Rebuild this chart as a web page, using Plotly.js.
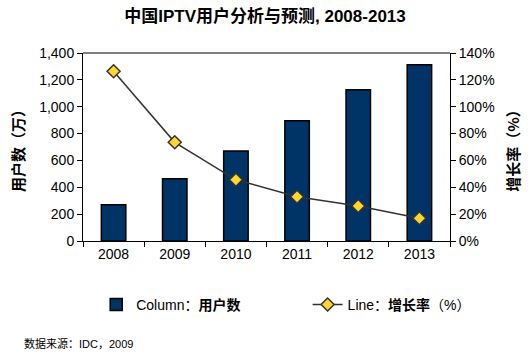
<!DOCTYPE html>
<html>
<head>
<meta charset="utf-8">
<script src="https://cdn.plot.ly/plotly-3.0.1.min.js"></script>
<style>html,body{margin:0;padding:0;background:#fff;}#chart{width:530px;height:358px;}</style>
</head>
<body>
<div id="chart"></div>
<script>
var years = ['2008', '2009', '2010', '2011', '2012', '2013'];
var users = [270, 464, 670, 896, 1127, 1313];
var growth = [126.4, 73.5, 45.6, 33.0, 26.0, 16.9];
var leftTicks = [0, 200, 400, 600, 800, 1000, 1200, 1400];
var rightTicks = [0, 20, 40, 60, 80, 100, 120, 140];
var rightTickText = ['0%', '20%', '40%', '60%', '80%', '100%', '120%', '140%'];

var FONT = 'Liberation Sans, Arial, sans-serif';
var MIX = 'Liberation Sans, Noto Sans CJK SC, sans-serif';
var CJK = 'Noto Sans CJK SC, sans-serif';

var traces = [
  {
    type: 'bar', x: years, y: users, name: 'Column：<b>用户数</b>',
    marker: {color: '#003366', line: {color: '#000000', width: 1.5}},
    width: 0.4, yaxis: 'y', hoverinfo: 'skip', legend: 'legend'
  },
  {
    type: 'scatter', mode: 'lines+markers', x: years, y: growth, name: 'Line：<b>增长率</b>（%）',
    yaxis: 'y2',
    line: {color: '#333333', width: 1.5},
    marker: {symbol: 'diamond', size: 10, color: '#FFD530', line: {color: '#333333', width: 1.5}},
    hoverinfo: 'skip', legend: 'legend2'
  }
];

var legendCommon = {
  orientation: 'h', xanchor: 'left', y: -0.34, yanchor: 'middle',
  font: {family: MIX, size: 14, color: '#000'}, bgcolor: 'rgba(0,0,0,0)'
};

var layout = {
  width: 530, height: 358,
  margin: {l: 83, r: 80, t: 53, b: 117},
  paper_bgcolor: '#ffffff', plot_bgcolor: '#ffffff',
  font: {family: FONT, size: 14, color: '#000000'},
  showlegend: true,
  title: {text: '<b>中国IPTV用户分析与预测, 2008-2013</b>', font: {family: MIX, size: 17, color: '#000'}, x: 0.5, xanchor: 'center', y: 0.955, yanchor: 'middle'},
  xaxis: {
    type: 'category', showgrid: false, showline: true, linecolor: '#000', linewidth: 1,
    ticks: 'outside', tickson: 'boundaries', ticklen: 5, tickcolor: '#000',
    tickfont: {family: FONT, size: 14, color: '#000'}, fixedrange: true
  },
  yaxis: {
    range: [0, 1400], tickvals: leftTicks, tickformat: ',', showgrid: false, zeroline: false,
    showline: true, linecolor: '#000', linewidth: 1, ticks: 'outside', ticklen: 5, tickcolor: '#000',
    tickfont: {family: FONT, size: 14, color: '#000'},
    title: {text: '<b>用户数（万）</b>', font: {family: CJK, size: 15, color: '#000'}, standoff: 10}
  },
  yaxis2: {
    range: [0, 140], tickvals: rightTicks, ticktext: rightTickText, overlaying: 'y', side: 'right',
    showgrid: false, zeroline: false, showline: true, linecolor: '#000', linewidth: 1,
    ticks: 'outside', ticklen: 5, tickcolor: '#000',
    tickfont: {family: FONT, size: 14, color: '#000'},
    title: {text: '<b>增长率（%）</b>', font: {family: CJK, size: 15, color: '#000'}, standoff: 14}
  },
  legend: Object.assign({}, legendCommon, {x: 0.036}),
  legend2: Object.assign({}, legendCommon, {x: 0.612}),
  shapes: [
    {type: 'line', xref: 'paper', yref: 'paper', x0: 0, x1: 1, y0: 1, y1: 1, line: {color: '#808080', width: 2}}
  ],
  annotations: [
    {text: '数据来源：IDC，2009', xref: 'paper', yref: 'paper', x: -0.166, y: -0.545, xanchor: 'left', yanchor: 'middle',
     showarrow: false, font: {family: MIX, size: 11, color: '#000'}}
  ]
};

Plotly.newPlot('chart', traces, layout, {displayModeBar: false, staticPlot: true});
</script>
</body>
</html>
